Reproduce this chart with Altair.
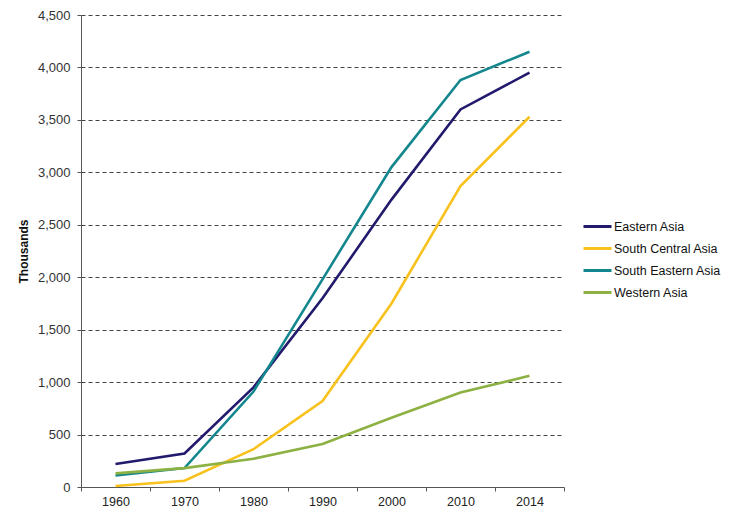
import altair as alt
import pandas as pd

years = ["1960", "1970", "1980", "1990", "2000", "2010", "2014"]
series = ["Eastern Asia", "South Central Asia", "South Eastern Asia", "Western Asia"]
eastern_asia = [220, 320, 950, 1800, 2740, 3600, 3950]
south_central_asia = [10, 60, 360, 820, 1750, 2870, 3530]
south_eastern_asia = [110, 180, 910, 1980, 3050, 3880, 4150]
western_asia = [130, 180, 270, 410, 660, 900, 1060]
colors = ["#221a6c", "#f8c11c", "#13878d", "#8db143"]
y_ticks = [0, 500, 1000, 1500, 2000, 2500, 3000, 3500, 4000, 4500]

rows = []
for name, vals in zip(series, [eastern_asia, south_central_asia, south_eastern_asia, western_asia]):
    for yr, v in zip(years, vals):
        rows.append({"Year": yr, "Series": name, "Value": v})
df = pd.DataFrame(rows)

font = "Liberation Sans"

chart = alt.Chart(df).mark_line(strokeWidth=2.6).encode(
    x=alt.X("Year:O", sort=years, bandPosition=0.5,
            scale=alt.Scale(type="band", paddingInner=0, paddingOuter=0),
            axis=alt.Axis(title=None, labelAngle=0, tickBand="extent", grid=False,
                          domainColor="#555555", tickColor="#555555", tickSize=4,
                          labelFont=font, labelFontSize=12.5, labelColor="#222222",
                          labelPadding=4)),
    y=alt.Y("Value:Q", scale=alt.Scale(domain=[0, 4500], nice=False),
            axis=alt.Axis(title="Thousands", values=y_ticks, format=",.0f",
                          grid=True, gridDash=[4, 3], gridColor="#444444", gridWidth=1,
                          domainColor="#555555", tickColor="#555555", tickSize=4,
                          tickDash=[4, 3],
                          labelFont=font, labelFontSize=13, labelColor="#333333",
                          labelPadding=7,
                          titleFont=font, titleFontSize=12, titleFontWeight="bold",
                          titleColor="#111111", titleX=-51)),
    color=alt.Color("Series:N", sort=series,
                    scale=alt.Scale(domain=series, range=colors),
                    legend=alt.Legend(title=None, orient="none", legendX=501, legendY=196,
                                      symbolType="stroke", symbolSize=784,
                                      symbolStrokeWidth=3, labelFont=font,
                                      labelFontSize=12.5, labelColor="#111111",
                                      rowPadding=-5.3, labelOffset=1)),
).properties(
    width=483, height=472,
    autosize=alt.AutoSizeParams(type="none"),
    padding={"left": 81, "top": 15, "right": 177, "bottom": 32},
    background="white",
).configure_view(stroke=None)

chart.save("out.html", embed_options={"renderer": "svg", "actions": False})
